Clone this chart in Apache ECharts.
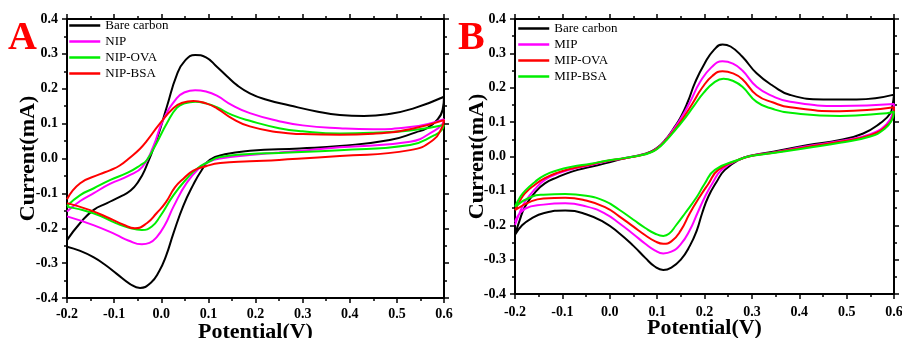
<!DOCTYPE html>
<html>
<head>
<meta charset="utf-8">
<script src="https://cdn.jsdelivr.net/npm/echarts@6/dist/echarts.min.js"></script>
<style>
  html, body { margin: 0; padding: 0; background: #fff; }
  #chart { width: 902px; height: 338px; }
</style>
</head>
<body>
<div id="chart"></div>
<script>
// potential (V), current (mA): forward scan then reverse scan
const aBare = [
  [-0.2, -0.234], [-0.172, -0.185], [-0.144, -0.148], [-0.115, -0.128], [-0.088, -0.11],
  [-0.065, -0.092], [-0.048, -0.065], [-0.034, -0.03], [-0.01, 0.053], [0.012, 0.149],
  [0.033, 0.24], [0.05, 0.28], [0.072, 0.297], [0.095, 0.29], [0.118, 0.263], [0.14, 0.235],
  [0.16, 0.211], [0.188, 0.187], [0.22, 0.17], [0.273, 0.152], [0.33, 0.135], [0.379, 0.125],
  [0.43, 0.122], [0.48, 0.127], [0.534, 0.143], [0.6, 0.177],
  [0.597, 0.14], [0.585, 0.11], [0.565, 0.088], [0.54, 0.075], [0.485, 0.053], [0.379, 0.036],
  [0.294, 0.029], [0.188, 0.022], [0.135, 0.012], [0.103, -0.004], [0.085, -0.035],
  [0.068, -0.075], [0.047, -0.135], [0.026, -0.214], [0.01, -0.28], [-0.005, -0.325],
  [-0.022, -0.356], [-0.045, -0.371], [-0.066, -0.36], [-0.095, -0.33], [-0.12, -0.304],
  [-0.144, -0.283], [-0.172, -0.265], [-0.2, -0.253]
];
const aNip = [
  [-0.2, -0.152], [-0.172, -0.122], [-0.144, -0.1], [-0.109, -0.073], [-0.07, -0.05],
  [-0.04, -0.024], [-0.017, 0.034], [0.004, 0.11], [0.033, 0.173], [0.05, 0.19], [0.072, 0.196],
  [0.095, 0.192], [0.118, 0.18], [0.15, 0.153], [0.188, 0.13], [0.25, 0.107], [0.3, 0.095],
  [0.379, 0.087], [0.45, 0.084], [0.528, 0.09], [0.6, 0.113],
  [0.596, 0.098], [0.58, 0.08], [0.528, 0.048], [0.379, 0.032], [0.25, 0.017], [0.188, 0.01],
  [0.125, 0.0], [0.1, -0.01], [0.082, -0.026], [0.054, -0.07], [0.026, -0.138], [0.008, -0.19],
  [-0.01, -0.226], [-0.025, -0.242], [-0.041, -0.246], [-0.07, -0.235], [-0.095, -0.219],
  [-0.144, -0.191], [-0.2, -0.166]
];
const aNipOva = [
  [-0.2, -0.136], [-0.172, -0.105], [-0.144, -0.086], [-0.109, -0.062], [-0.07, -0.04],
  [-0.045, -0.02], [-0.031, -0.005], [-0.01, 0.044], [0.012, 0.101], [0.033, 0.145],
  [0.05, 0.158], [0.072, 0.163], [0.095, 0.158], [0.118, 0.147], [0.15, 0.125], [0.188, 0.108],
  [0.25, 0.087], [0.3, 0.078], [0.379, 0.072], [0.45, 0.074], [0.528, 0.08], [0.6, 0.096],
  [0.594, 0.08], [0.58, 0.067], [0.528, 0.039], [0.379, 0.024], [0.25, 0.016], [0.188, 0.013],
  [0.125, 0.004], [0.1, -0.01], [0.075, -0.03], [0.054, -0.058], [0.026, -0.105],
  [-0.003, -0.167], [-0.02, -0.195], [-0.041, -0.205], [-0.07, -0.198], [-0.095, -0.186],
  [-0.144, -0.157], [-0.2, -0.138]
];
const aNipBsa = [
  [-0.2, -0.117], [-0.172, -0.071], [-0.13, -0.045], [-0.109, -0.034], [-0.088, -0.02],
  [-0.066, 0.003], [-0.045, 0.028], [-0.031, 0.05], [-0.003, 0.1], [0.026, 0.145],
  [0.045, 0.16], [0.068, 0.165], [0.095, 0.158], [0.118, 0.144], [0.15, 0.115], [0.188, 0.092],
  [0.25, 0.075], [0.3, 0.07], [0.379, 0.068], [0.45, 0.071], [0.528, 0.084], [0.6, 0.11],
  [0.596, 0.09], [0.577, 0.053], [0.528, 0.024], [0.379, 0.007], [0.25, -0.004], [0.188, -0.008],
  [0.125, -0.013], [0.095, -0.022], [0.068, -0.035], [0.047, -0.058], [0.029, -0.083],
  [0.01, -0.125], [-0.01, -0.157], [-0.03, -0.185], [-0.056, -0.2], [-0.08, -0.19],
  [-0.109, -0.172], [-0.151, -0.148], [-0.2, -0.128]
];

const bBare = [
  [-0.2, -0.228], [-0.19, -0.185], [-0.179, -0.146], [-0.158, -0.105], [-0.137, -0.078],
  [-0.11, -0.06], [-0.08, -0.044], [-0.04, -0.03], [-0.01, -0.02], [0.032, -0.005],
  [0.064, 0.004], [0.085, 0.013], [0.1, 0.025], [0.117, 0.048], [0.134, 0.08], [0.15, 0.115],
  [0.165, 0.16], [0.18, 0.215], [0.2, 0.27], [0.22, 0.31], [0.238, 0.326], [0.255, 0.32],
  [0.28, 0.29], [0.31, 0.242], [0.345, 0.205], [0.381, 0.179], [0.451, 0.166], [0.521, 0.166],
  [0.6, 0.18],
  [0.597, 0.15], [0.592, 0.125], [0.571, 0.097], [0.535, 0.067], [0.486, 0.048], [0.416, 0.033],
  [0.345, 0.014], [0.3, 0.003], [0.275, -0.008], [0.243, -0.039], [0.225, -0.075],
  [0.208, -0.117], [0.195, -0.165], [0.184, -0.214], [0.169, -0.26], [0.15, -0.3],
  [0.13, -0.323], [0.113, -0.33], [0.095, -0.32], [0.075, -0.295], [0.05, -0.26],
  [0.02, -0.223], [-0.01, -0.193], [-0.05, -0.168], [-0.094, -0.157], [-0.14, -0.165],
  [-0.165, -0.18], [-0.185, -0.2], [-0.2, -0.228]
];
const bMip = [
  [-0.2, -0.199], [-0.19, -0.163], [-0.179, -0.132], [-0.158, -0.095], [-0.137, -0.068],
  [-0.11, -0.05], [-0.08, -0.037], [-0.04, -0.025], [-0.01, -0.015], [0.032, -0.005],
  [0.064, 0.004], [0.085, 0.012], [0.1, 0.024], [0.117, 0.047], [0.134, 0.078], [0.152, 0.115],
  [0.17, 0.16], [0.19, 0.215], [0.215, 0.26], [0.238, 0.277], [0.26, 0.27], [0.28, 0.25],
  [0.31, 0.203], [0.345, 0.175], [0.381, 0.159], [0.486, 0.147], [0.6, 0.153],
  [0.597, 0.125], [0.585, 0.095], [0.55, 0.065], [0.486, 0.045], [0.416, 0.03], [0.345, 0.012],
  [0.3, 0.002], [0.275, -0.008], [0.236, -0.039], [0.218, -0.075], [0.201, -0.117],
  [0.185, -0.165], [0.169, -0.214], [0.15, -0.255], [0.13, -0.277], [0.113, -0.282],
  [0.095, -0.273], [0.075, -0.254], [0.05, -0.226], [0.02, -0.194], [-0.01, -0.166],
  [-0.05, -0.145], [-0.094, -0.136], [-0.14, -0.14], [-0.179, -0.152], [-0.2, -0.19]
];
const bMipOva = [
  [-0.2, -0.156], [-0.19, -0.13], [-0.179, -0.107], [-0.158, -0.082], [-0.137, -0.063],
  [-0.11, -0.047], [-0.08, -0.035], [-0.04, -0.023], [-0.01, -0.014], [0.032, -0.005],
  [0.064, 0.003], [0.085, 0.012], [0.1, 0.023], [0.12, 0.05], [0.138, 0.08], [0.155, 0.112],
  [0.175, 0.155], [0.195, 0.2], [0.217, 0.235], [0.238, 0.248], [0.26, 0.242], [0.28, 0.225],
  [0.31, 0.179], [0.345, 0.157], [0.381, 0.143], [0.486, 0.132], [0.6, 0.143],
  [0.597, 0.115], [0.585, 0.09], [0.55, 0.062], [0.486, 0.043], [0.416, 0.028], [0.345, 0.011],
  [0.3, 0.002], [0.275, -0.008], [0.229, -0.039], [0.208, -0.08], [0.19, -0.117],
  [0.169, -0.165], [0.15, -0.215], [0.13, -0.247], [0.113, -0.254], [0.095, -0.246],
  [0.075, -0.229], [0.05, -0.204], [0.02, -0.174], [-0.01, -0.147], [-0.05, -0.128],
  [-0.094, -0.12], [-0.14, -0.122], [-0.165, -0.13], [-0.2, -0.156]
];
const bMipBsa = [
  [-0.2, -0.146], [-0.19, -0.12], [-0.179, -0.1], [-0.158, -0.074], [-0.137, -0.054],
  [-0.11, -0.04], [-0.08, -0.03], [-0.04, -0.021], [-0.01, -0.013], [0.032, -0.004],
  [0.064, 0.003], [0.085, 0.011], [0.1, 0.022], [0.12, 0.048], [0.14, 0.08], [0.158, 0.11],
  [0.178, 0.148], [0.198, 0.185], [0.22, 0.215], [0.24, 0.226], [0.26, 0.22], [0.28, 0.203],
  [0.31, 0.159], [0.345, 0.138], [0.381, 0.127], [0.486, 0.118], [0.585, 0.126], [0.6, 0.13],
  [0.595, 0.105], [0.58, 0.08], [0.55, 0.058], [0.486, 0.04], [0.416, 0.025], [0.345, 0.01],
  [0.3, 0.002], [0.275, -0.008], [0.222, -0.039], [0.2, -0.08], [0.184, -0.117],
  [0.159, -0.165], [0.14, -0.2], [0.125, -0.225], [0.113, -0.231], [0.095, -0.224],
  [0.075, -0.208], [0.05, -0.184], [0.02, -0.155], [-0.01, -0.13], [-0.05, -0.114],
  [-0.094, -0.109], [-0.14, -0.111], [-0.165, -0.117], [-0.2, -0.146]
];

const namesA = ["Bare carbon", "NIP", "NIP-OVA", "NIP-BSA"];
const namesB = ["Bare carbon", "MIP", "MIP-OVA", "MIP-BSA"];
const colorsA = ["#000000", "#ff00ff", "#00ee00", "#ff0000"];
const colorsB = ["#000000", "#ff00ff", "#ff0000", "#00ee00"];

const serif = "Liberation Serif";
const fmt = (v) => (Math.abs(v) < 1e-9 ? 0 : v).toFixed(1);

const tickStyle = {
  axisLine: { onZero: false, lineStyle: { color: "#000", width: 2 } },
  axisTick: { inside: false, length: 5, lineStyle: { color: "#000", width: 1.5 } },
  minorTick: { show: true, splitNumber: 2, length: 3, lineStyle: { color: "#000", width: 1.5 } },
  splitLine: { show: false }
};

function xAxes(grid, labelMargin, nameGap) {
  const base = Object.assign({ gridIndex: grid, type: "value", min: -0.2, max: 0.6, interval: 0.1 }, tickStyle);
  return [
    Object.assign({}, base, {
      position: "bottom",
      axisLabel: { formatter: fmt, fontFamily: serif, fontWeight: "bold", fontSize: 14, color: "#000", margin: labelMargin },
      name: "Potential(V)", nameLocation: "middle", nameGap, nameMoveOverlap: false,
      nameTextStyle: { fontFamily: serif, fontWeight: "bold", fontSize: 22, color: "#000" }
    }),
    Object.assign({}, base, { position: "top", axisLabel: { show: false } })
  ];
}

function yAxes(grid, nameGap) {
  const base = Object.assign({ gridIndex: grid, type: "value", min: -0.4, max: 0.4, interval: 0.1 }, tickStyle);
  return [
    Object.assign({}, base, {
      position: "left",
      axisLabel: { formatter: fmt, fontFamily: serif, fontWeight: "bold", fontSize: 14, color: "#000", margin: 9 },
      name: "Current(mA)", nameLocation: "middle", nameGap, nameMoveOverlap: false,
      nameTextStyle: { fontFamily: serif, fontWeight: "bold", fontSize: 22, color: "#000" }
    }),
    Object.assign({}, base, { position: "right", axisLabel: { show: false } })
  ];
}

function cv(name, data, color, axis) {
  return {
    name, type: "line", data, xAxisIndex: axis, yAxisIndex: axis,
    symbol: "none", smooth: 0.5, color,
    lineStyle: { color, width: 2 }
  };
}

const seriesA = [aBare, aNip, aNipOva, aNipBsa].map((d, i) => cv(namesA[i], d, colorsA[i], 0));
const seriesB = [bBare, bMip, bMipOva, bMipBsa].map((d, i) => cv(namesB[i], d, colorsB[i], 2));

function legend(left, top, names) {
  return {
    left, top, orient: "vertical", data: names, itemWidth: 31, itemHeight: 14, itemGap: 3,
    padding: 0, selectedMode: false,
    itemStyle: { color: "rgba(0,0,0,0)", borderWidth: 0 },
    lineStyle: { width: 2.5 },
    textStyle: { fontFamily: serif, fontSize: 13, color: "#000" }
  };
}

const chart = echarts.init(document.getElementById("chart"));
chart.setOption({
  animation: false,
  backgroundColor: "#fff",
  title: [
    { text: "A", left: 8, top: 19, padding: 0, textStyle: { color: "#ff0000", fontFamily: serif, fontWeight: "bold", fontSize: 40 } },
    { text: "B", left: 458, top: 19, padding: 0, textStyle: { color: "#ff0000", fontFamily: serif, fontWeight: "bold", fontSize: 40 } }
  ],
  legend: [legend(68, 19, namesA), legend(517, 22, namesB)],
  grid: [
    { left: 67, top: 19, width: 377, height: 279, outerBoundsMode: "none" },
    { left: 515, top: 19, width: 379, height: 275, outerBoundsMode: "none" }
  ],
  xAxis: [...xAxes(0, 9, 23), ...xAxes(1, 11, 23)],
  yAxis: [...yAxes(0, 28), ...yAxes(1, 27)],
  series: [...seriesA, ...seriesB]
});
</script>
</body>
</html>
